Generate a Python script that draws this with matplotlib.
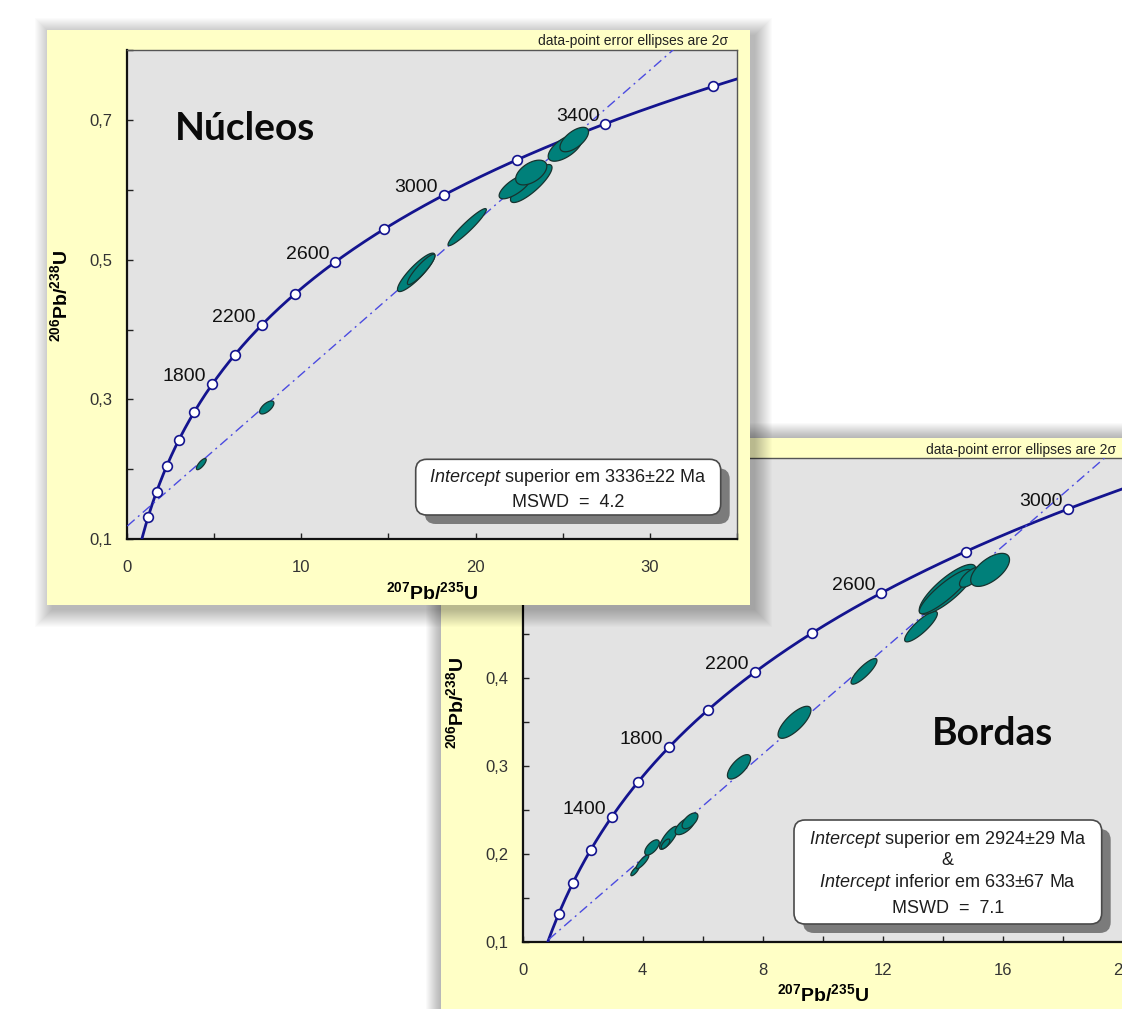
import numpy as np
import matplotlib
matplotlib.use('Agg')
import matplotlib.pyplot as plt
from matplotlib.patches import Rectangle, FancyBboxPatch, Polygon
from matplotlib.transforms import Affine2D
from matplotlib.ticker import FixedLocator, FuncFormatter

plt.rcParams['font.family'] = ['Liberation Sans', 'DejaVu Sans']
plt.rcParams['mathtext.fontset'] = 'custom'
plt.rcParams['mathtext.rm'] = 'Liberation Sans'
plt.rcParams['mathtext.it'] = 'Liberation Sans:italic'
plt.rcParams['mathtext.bf'] = 'Liberation Sans:bold'

# ---------------- data ----------------
L238 = 1.55125e-10   # decay constants (1/yr)
L235 = 9.8485e-10

# Núcleos (cores): 207Pb/235U, 206Pb/238U, 2-sigma errors, error correlation
nuc_x   = [4.25, 8.01, 16.59, 16.88, 19.52, 23.20, 22.28, 23.20, 25.16, 25.67]
nuc_y   = [0.2076, 0.2886, 0.4819, 0.4861, 0.5466, 0.609, 0.6047, 0.6247, 0.6604, 0.6719]
nuc_ex  = [0.281, 0.41, 1.072, 0.793, 1.10, 1.193, 0.924, 0.894, 0.987, 0.82]
nuc_ey  = [0.0080, 0.0093, 0.0275, 0.0217, 0.0265, 0.0272, 0.0176, 0.0177, 0.0195, 0.0175]
nuc_rho = [0.77, 0.65, 0.883, 0.902, 0.944, 0.837, 0.741, 0.511, 0.64, 0.626]
nuc_upper_age = 3336          # Ma
nuc_line_y0 = 0.119           # discordia 206/238 at 207/235 = 0
nuc_label_ages = [1800, 2200, 2600, 3000, 3400]
nuc_xticks_major = [0, 10, 20, 30]
nuc_xticks_minor = [5, 15, 25, 35]
nuc_yticks_major = [0.1, 0.3, 0.5, 0.7]
nuc_yticks_minor = [0.2, 0.4, 0.6, 0.8]

# Bordas (rims)
bor_x   = [3.743, 3.993, 4.31, 4.867, 4.76, 5.41, 5.577, 7.21, 9.06, 11.377, 13.277, 14.16, 14.08, 14.94, 15.58]
bor_y   = [0.1811, 0.1914, 0.2078, 0.2187, 0.2118, 0.2323, 0.238, 0.2994, 0.350, 0.4079, 0.4587, 0.5011, 0.4985, 0.515, 0.5232]
bor_ex  = [0.138, 0.21, 0.242, 0.305, 0.144, 0.328, 0.264, 0.386, 0.548, 0.432, 0.545, 0.941, 0.86, 0.38, 0.647]
bor_ey  = [0.00543, 0.00784, 0.00865, 0.01308, 0.00554, 0.0100, 0.0090, 0.01385, 0.0182, 0.01455, 0.01728, 0.02834, 0.02512, 0.0115, 0.01878]
bor_rho = [0.80, 0.856, 0.632, 0.80, 0.70, 0.647, 0.60, 0.70, 0.757, 0.849, 0.855, 0.826, 0.886, 0.685, 0.615]
bor_upper_age = 2924
bor_lower_age = 633
bor_label_ages = [1400, 1800, 2200, 2600, 3000]
bor_xticks_major = [0, 4, 8, 12, 16, 20]
bor_xticks_minor = [2, 6, 10, 14, 18]
bor_yticks_major = [0.1, 0.2, 0.3, 0.4, 0.5, 0.6]
bor_yticks_minor = [0.15, 0.25, 0.35, 0.45, 0.55, 0.65]

marker_ages = list(range(800, 4601, 200))

nuc_text = [r'$\mathit{Intercept}$ superior em 3336±22 Ma', 'MSWD  =  4.2']
bor_text = [r'$\mathit{Intercept}$ superior em 2924±29 Ma', '&',
            r'$\mathit{Intercept}$ inferior em 633±67 Ma', 'MSWD  =  7.1']

# ---------------- helpers ----------------
def r206(t_ma):
    return np.exp(L238 * np.asarray(t_ma) * 1e6) - 1

def r207(t_ma):
    return np.exp(L235 * np.asarray(t_ma) * 1e6) - 1

W, H = 1122, 1009
fig = plt.figure(figsize=(W / 100, H / 100), dpi=100)
fig.patch.set_facecolor('white')
PX = Affine2D().scale(1 / W, -1 / H).translate(0, 1) + fig.transFigure

NAVY = '#14148f'
DISC = '#4b4be0'
TEAL = '#00807a'
YEL = '#FFFFC6'
GRAY = '#E3E3E3'


def soft_shadow(x0, y0, x1, y1, z, dx=5, dy=5, n=18, a=0.016):
    for k in range(n):
        fig.add_artist(Rectangle((x0 + dx - k, y0 + dy - k), (x1 - x0) + 2 * k, (y1 - y0) + 2 * k,
                                 transform=PX, fc='k', ec='none', alpha=a, zorder=z))


def frame(x0, y0, x1, y1, z):
    fig.add_artist(Rectangle((x0, y0), x1 - x0, y1 - y0, transform=PX, fc=YEL, ec='none', zorder=z))


def info_box(x0, y0, x1, y1, z, lines, cx, baselines, fs=13.0):
    fig.add_artist(FancyBboxPatch((x0 + 9, y0 + 9), x1 - x0, y1 - y0,
                                  boxstyle='round,pad=0,rounding_size=11', transform=PX,
                                  fc='#7b7b7b', ec='none', zorder=z))
    fig.add_artist(FancyBboxPatch((x0, y0), x1 - x0, y1 - y0,
                                  boxstyle='round,pad=0,rounding_size=11', transform=PX,
                                  fc='white', ec='#4a4a4a', lw=1.2, zorder=z + 0.01))
    for s, b in zip(lines, baselines):
        fig.text(cx, b, s, transform=PX, ha='center', va='baseline', fontsize=fs,
                 color='#1e1e1e', zorder=z + 0.02)


def draw_ellipses(ax, xs, ys, exs, eys, rhos):
    th = np.linspace(0, 2 * np.pi, 120)
    circ = np.vstack([np.cos(th), np.sin(th)])
    for x, y, ex, ey, r in zip(xs, ys, exs, eys, rhos):
        cov = np.array([[ex ** 2, r * ex * ey], [r * ex * ey, ey ** 2]])
        L = np.linalg.cholesky(cov)
        pts = (L @ circ).T + np.array([x, y])
        ax.add_patch(Polygon(pts, closed=True, fc=TEAL, ec='#17332f', lw=0.9, zorder=4))


def style_axes(ax, xmaj, xmin, ymaj, ymin, xlim, ylim):
    ax.set_facecolor(GRAY)
    ax.set_xlim(*xlim)
    ax.set_ylim(*ylim)
    ax.xaxis.set_major_locator(FixedLocator(xmaj))
    ax.xaxis.set_minor_locator(FixedLocator(xmin))
    ax.yaxis.set_major_locator(FixedLocator(ymaj))
    ax.yaxis.set_minor_locator(FixedLocator(ymin))
    ax.xaxis.set_major_formatter(FuncFormatter(lambda v, p: f'{v:.0f}'))
    ax.yaxis.set_major_formatter(FuncFormatter(lambda v, p: f'{v:.1f}'.replace('.', ',')))
    ax.tick_params(which='both', direction='in', length=4.5, width=1, color='#222',
                   labelsize=12, labelcolor='#333333')
    ax.tick_params(axis='x', which='both', pad=15)
    ax.tick_params(axis='y', which='both', pad=10.5)
    for s in ['left', 'bottom']:
        ax.spines[s].set_linewidth(1.6)
        ax.spines[s].set_color('#111')
    for s in ['top', 'right']:
        ax.spines[s].set_linewidth(1.0)
        ax.spines[s].set_color('#555')


def draw_concordia(ax, label_ages):
    t = np.linspace(0, 4700, 2000)
    ax.plot(r207(t), r206(t), color=NAVY, lw=2.0, zorder=3)
    ma = np.array(marker_ages)
    ax.plot(r207(ma), r206(ma), 'o', ms=7, mfc='white', mec=NAVY, mew=1.2, zorder=5)
    for a in label_ages:
        ax.annotate(str(a), xy=(r207(a), r206(a)), xytext=(-6, 3), textcoords='offset pixels',
                    ha='right', va='baseline', fontsize=14, color='#111', zorder=6)


DASH = (0, (7, 3.2, 1.4, 3.2))

# ---------------- panel 2 (Bordas), underneath ----------------
soft_shadow(441, 438, 1150, 1040, 0.1, dx=0, dy=0, n=16, a=0.018)
frame(441, 438, 1150, 1040, 0.2)
ax2 = fig.add_axes([522.7 / W, 1 - 942.3 / H, 600 / W, 484 / H])
ax2.set_zorder(0.5)
style_axes(ax2, bor_xticks_major, bor_xticks_minor, bor_yticks_major, bor_yticks_minor,
           (0, 20), (0.1, 0.65))
draw_concordia(ax2, bor_label_ages)
lx, ly = r207(bor_lower_age), r206(bor_lower_age)
ux, uy = r207(bor_upper_age), r206(bor_upper_age)
slope2 = (uy - ly) / (ux - lx)
xx = np.array([lx, 25])
ax2.plot(xx, ly + slope2 * (xx - lx), color=DISC, lw=1.0, ls=DASH, zorder=3.5)
draw_ellipses(ax2, bor_x, bor_y, bor_ex, bor_ey, bor_rho)
fig.text(1116, 454, 'data-point error ellipses are 2σ', transform=PX, ha='right',
         va='baseline', fontsize=10, color='#222', zorder=0.6)
fig.text(932, 745, 'Bordas', transform=PX, ha='left', va='baseline', fontsize=28,
         fontweight='bold', family='Lato', color='#0a0a0a', zorder=0.6)
fig.text(456.5, 703, r'$^{\mathbf{206}}$Pb/$^{\mathbf{238}}$U', transform=PX, rotation=90,
         ha='center', va='center', fontsize=14, fontweight='bold', zorder=0.6)
fig.text(823, 994, r'$^{\mathbf{207}}$Pb/$^{\mathbf{235}}$U', transform=PX,
         ha='center', va='center', fontsize=14, fontweight='bold', zorder=0.6)
info_box(794, 820, 1101.7, 924, 0.6, bor_text, 947.8, [844.3, 865, 886.7, 912.7])

# ---------------- panel 1 (Núcleos), on top ----------------
soft_shadow(47.5, 30, 750.5, 604.5, 1.0)
frame(47.5, 30, 750.5, 604.5, 1.1)
ax1 = fig.add_axes([127.3 / W, 1 - 539.3 / H, 609.4 / W, 489.3 / H])
ax1.set_zorder(2)
style_axes(ax1, nuc_xticks_major, nuc_xticks_minor, nuc_yticks_major, nuc_yticks_minor,
           (0, 35), (0.1, 0.8))
draw_concordia(ax1, nuc_label_ages)
ux1, uy1 = r207(nuc_upper_age), r206(nuc_upper_age)
slope1 = (uy1 - nuc_line_y0) / ux1
xx = np.array([0, 40])
ax1.plot(xx, nuc_line_y0 + slope1 * xx, color=DISC, lw=1.0, ls=DASH, zorder=3.5)
draw_ellipses(ax1, nuc_x, nuc_y, nuc_ex, nuc_ey, nuc_rho)
fig.text(728, 45.5, 'data-point error ellipses are 2σ', transform=PX, ha='right',
         va='baseline', fontsize=10, color='#222', zorder=2.5)
fig.text(175, 140, 'Núcleos', transform=PX, ha='left', va='baseline', fontsize=28,
         fontweight='bold', family='Lato', color='#0a0a0a', zorder=2.5)
fig.text(60.5, 296, r'$^{\mathbf{206}}$Pb/$^{\mathbf{238}}$U', transform=PX, rotation=90,
         ha='center', va='center', fontsize=14, fontweight='bold', zorder=2.5)
fig.text(432, 592, r'$^{\mathbf{207}}$Pb/$^{\mathbf{235}}$U', transform=PX,
         ha='center', va='center', fontsize=14, fontweight='bold', zorder=2.5)
info_box(415.7, 459.3, 720.7, 515, 2.5, nuc_text, 568, [481.7, 506.7])

fig.savefig('out.png', dpi=100, facecolor='white')
